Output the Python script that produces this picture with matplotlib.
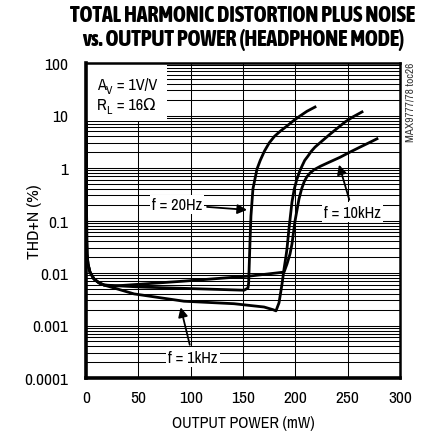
import matplotlib
matplotlib.use("Agg")
import matplotlib.pyplot as plt
from matplotlib import font_manager as fm
from matplotlib.patches import Rectangle
from matplotlib.transforms import offset_copy

_entries = fm.fontManager.ttflist
_names = {e.name for e in _entries}


def first_available(candidates, default="DejaVu Sans"):
    for c in candidates:
        if c in _names:
            return c
    return default


def heavy_weight(family):
    weights = set()
    for e in _entries:
        if e.name == family:
            try:
                weights.add(int(e.weight))
            except (TypeError, ValueError):
                pass
    for w in (800, 900, 700):
        if w in weights:
            return w
    return "bold"


BODY = first_available(["Archivo Narrow", "Roboto Condensed", "Asap Condensed", "Liberation Sans"])
TITLE = first_available(["Asap Condensed", "Roboto Condensed", BODY])
TITLE_WEIGHT = heavy_weight(TITLE)

plt.rcParams["font.family"] = [BODY, "DejaVu Sans"]

# Shared low-power (noise-dominated) start of all three sweeps
head_mw = [0.3, 0.4, 0.5, 0.7, 1.0, 1.9, 3.8, 7.6, 12.4, 17.2]
head_thd = [6.9, 1.0, 0.26, 0.044, 0.023, 0.0148, 0.0104, 0.0077, 0.0065, 0.0059]

# f = 20Hz
hz20_mw = head_mw + [52.5, 151.0, 154.8, 155.4, 156.0, 156.7, 157.6, 159.5,
                     163.4, 166.5, 170.5, 175.0, 180.0, 186.0, 192.0, 198.0,
                     204.5, 211.0, 218.8]
hz20_thd = head_thd + [0.0054, 0.0047, 0.0052, 0.0065, 0.015, 0.04, 0.122, 0.40,
                       0.96, 1.4, 2.1, 3.0, 4.0, 5.1, 6.3, 7.9,
                       9.8, 12.0, 14.5]

# f = 1kHz
khz1_mw = head_mw + [45.9, 93.6, 141.4, 170.1, 178.7, 181.5, 184.4, 187.3,
                     189.2, 191.1, 192.0, 193.9, 196.8, 199.0, 201.6, 204.0,
                     206.4, 209.0, 212.1, 215.0, 218.8, 225.0, 233.1, 240.0,
                     247.4, 255.0, 263.7]
khz1_thd = head_thd + [0.0040, 0.0029, 0.0026, 0.00225, 0.0020, 0.0019, 0.0027, 0.0062,
                       0.0119, 0.0211, 0.0286, 0.069, 0.225, 0.40, 0.62, 0.85,
                       1.09, 1.4, 1.69, 2.05, 2.5, 3.2, 4.4, 5.7,
                       7.5, 9.4, 11.7]

# f = 10kHz
khz10_mw = head_mw + [26.8, 93.6, 157.6, 189.2, 192.0, 194.9, 196.8, 199.7,
                      203.5, 206.0, 208.5, 211.0, 214.0, 218.0, 224.0, 232.0,
                      242.7, 252.0, 261.8, 270.0, 278.0]
khz10_thd = head_thd + [0.00565, 0.0070, 0.0088, 0.0104, 0.0148, 0.023, 0.0357, 0.098,
                        0.257, 0.40, 0.55, 0.68, 0.80, 0.93, 1.08, 1.28,
                        1.6, 2.0, 2.5, 3.0, 3.6]

x_ticks = [0, 50, 100, 150, 200, 250, 300]
y_ticks = [1e-4, 1e-3, 1e-2, 1e-1, 1, 10, 100]
y_tick_labels = ["0.0001", "0.001", "0.01", "0.1", "1", "10", "100"]

fig = plt.figure(figsize=(4.30, 4.39), dpi=100)
renderer = fig.canvas.get_renderer()


def fit_size(text, width_px, **kw):
    """Font size (pt) at which `text` spans `width_px` pixels."""
    probe = fig.text(0, 0, text, fontsize=10, **kw)
    w = probe.get_window_extent(renderer).width
    probe.remove()
    return 10 * width_px / w


TICK_SIZE = fit_size("0.0001", 43)
LABEL_SIZE = fit_size("f = 20Hz", 50)
XLABEL_SIZE = fit_size("OUTPUT POWER (mW)", 142)
YLABEL_SIZE = fit_size("THD+N (%)", 74)
SIDE_SIZE = fit_size("MAX9777/78 toc26", 79)
T1_SIZE = fit_size("TOTAL HARMONIC DISTORTION PLUS NOISE", 347, family=TITLE, fontweight=TITLE_WEIGHT)
T2_SIZE = fit_size("vs. OUTPUT POWER (HEADPHONE MODE)", 327, family=TITLE, fontweight=TITLE_WEIGHT)
TITLE_SIZE = min(T1_SIZE, T2_SIZE)

ax = fig.add_axes([86 / 430, 1 - 379 / 439, 314 / 430, 315 / 439])

ax.set_yscale("log")
ax.set_xlim(0, 300)
ax.set_ylim(1e-4, 100)
ax.set_xticks(x_ticks)
ax.set_yticks(y_ticks)
ax.set_yticklabels(y_tick_labels)
ax.tick_params(axis="both", which="both", length=0, labelsize=TICK_SIZE)
ax.tick_params(axis="y", pad=13)
ax.tick_params(axis="x", pad=9)

ax.grid(True, which="both", color="black", linewidth=0.75)
ax.set_axisbelow(True)

for side in ["left", "bottom"]:
    ax.spines[side].set_linewidth(2.6)
for side in ["top", "right"]:
    ax.spines[side].set_linewidth(1.8)

# White panel behind the test conditions
ax.add_patch(Rectangle((0, 7.9), 77, 92.1, facecolor="white", edgecolor="none", zorder=1.5))


def subscripted(x, y, main, sub, rest, size):
    """Draw main + lowered small subscript + rest on one baseline."""
    t = ax.text(x, y, main, fontsize=size, va="baseline", ha="left", zorder=3)
    w = t.get_window_extent(renderer).width
    s = ax.text(x, y, sub, fontsize=size * 0.72, va="baseline", ha="left", zorder=3,
                transform=offset_copy(ax.transData, x=w, y=-4, units="dots"))
    w2 = s.get_window_extent(renderer).width
    ax.text(x, y, rest, fontsize=size, va="baseline", ha="left", zorder=3,
            transform=offset_copy(ax.transData, x=w + w2 + 1, y=0, units="dots"))


subscripted(10.5, 31.5, "A", "V", " = 1V/V", LABEL_SIZE)
subscripted(10.5, 13.2, "R", "L", " = 16\u03a9", LABEL_SIZE)

for xs, ys in [(hz20_mw, hz20_thd), (khz1_mw, khz1_thd), (khz10_mw, khz10_thd)]:
    ax.plot(xs, ys, color="black", linewidth=2.0, solid_joinstyle="round", zorder=4)

label_box = dict(facecolor="white", edgecolor="none", pad=1.5)
arrow = dict(arrowstyle="-|>", color="black", linewidth=1.3, mutation_scale=14)

ax.annotate("f = 20Hz", xy=(156.5, 0.158), xytext=(87, 0.2), fontsize=LABEL_SIZE,
            ha="center", va="center", bbox=label_box, arrowprops=arrow, zorder=5)
ax.annotate("f = 10kHz", xy=(241, 1.3), xytext=(255, 0.145), fontsize=LABEL_SIZE,
            ha="center", va="center", bbox=label_box, arrowprops=arrow, zorder=5)
ax.annotate("f = 1kHz", xy=(89.8, 0.0025), xytext=(102, 0.00025), fontsize=LABEL_SIZE,
            ha="center", va="center", bbox=label_box, arrowprops=arrow, zorder=5)

ax.set_xlabel("OUTPUT POWER (mW)", fontsize=XLABEL_SIZE)
ax.xaxis.set_label_coords(0.5, -(424 - 379) / 315)
ax.xaxis.label.set_verticalalignment("center")
ax.set_ylabel("THD+N (%)", fontsize=YLABEL_SIZE)
ax.yaxis.set_label_coords((35 - 86) / 314, 0.5)
ax.yaxis.label.set_verticalalignment("center")

fig.text(243 / 430, 1 - 16 / 439, "TOTAL HARMONIC DISTORTION PLUS NOISE",
         ha="center", va="center", fontsize=TITLE_SIZE, family=TITLE, fontweight=TITLE_WEIGHT)
fig.text(243 / 430, 1 - 40 / 439, "vs. OUTPUT POWER (HEADPHONE MODE)",
         ha="center", va="center", fontsize=TITLE_SIZE, family=TITLE, fontweight=TITLE_WEIGHT)

fig.text(411 / 430, 1 - 63 / 439, "MAX9777/78 toc26", rotation=90,
         ha="center", va="top", fontsize=SIDE_SIZE, color="#333333")

fig.savefig("out.png", dpi=100)
